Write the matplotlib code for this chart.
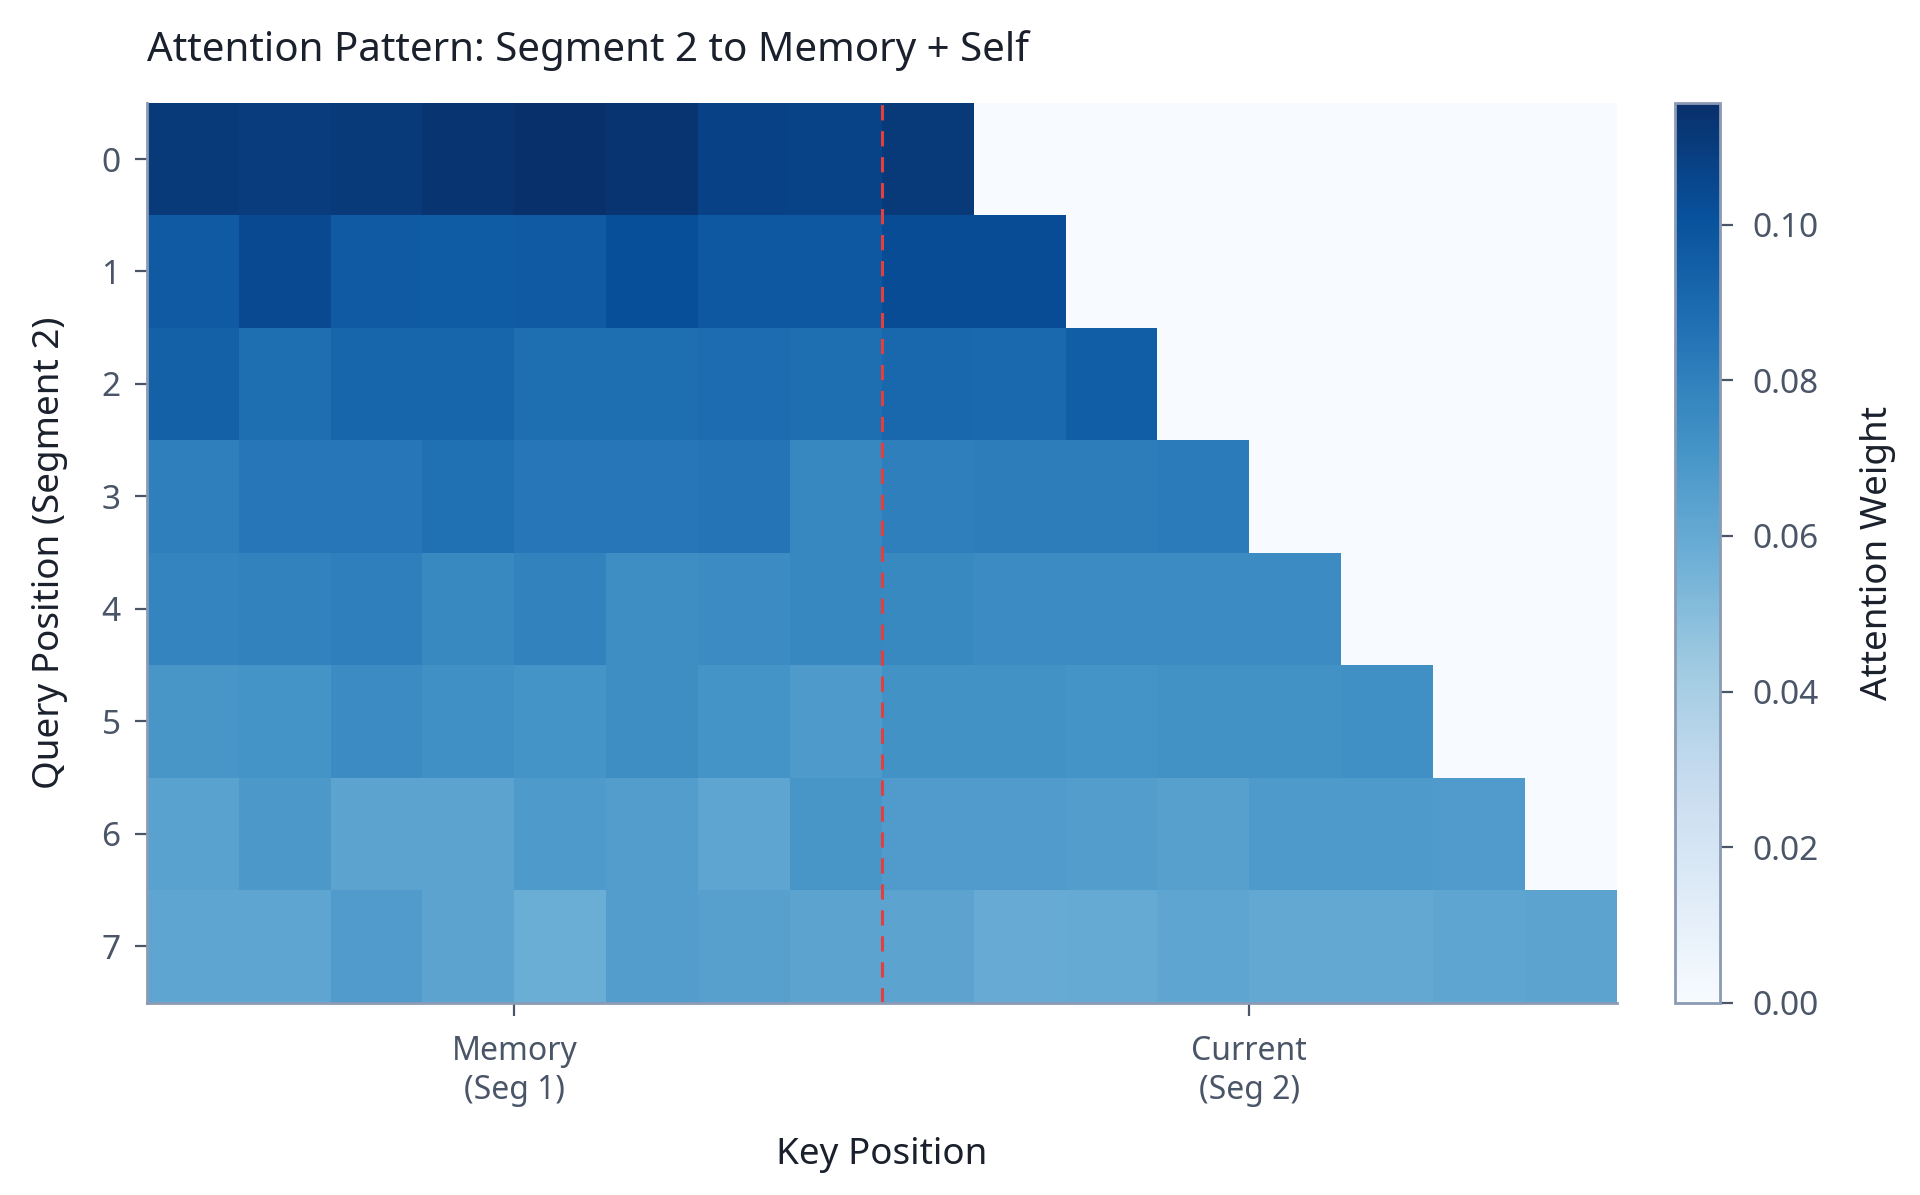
import numpy as np
import matplotlib
matplotlib.use("Agg")
import matplotlib.pyplot as plt

plt.rcParams['font.family'] = ['Noto Sans', 'DejaVu Sans']

# attention weights per query row (memory keys 0-7, then current keys up to self)
row0 = [0.111, 0.110, 0.111, 0.113, 0.1157, 0.113, 0.108, 0.107, 0.111]
row1 = [0.097, 0.104, 0.097, 0.096, 0.097, 0.102, 0.098, 0.098, 0.103, 0.103]
row2 = [0.094, 0.088, 0.092, 0.092, 0.088, 0.088, 0.089, 0.088, 0.091, 0.090, 0.095]
row3 = [0.080, 0.084, 0.084, 0.087, 0.084, 0.084, 0.085, 0.077, 0.080, 0.081, 0.081, 0.082]
row4 = [0.078, 0.079, 0.080, 0.076, 0.079, 0.074, 0.075, 0.077, 0.076, 0.075, 0.075, 0.075, 0.075]
row5 = [0.070, 0.071, 0.075, 0.073, 0.071, 0.074, 0.071, 0.068, 0.072, 0.072, 0.071, 0.072, 0.072, 0.073]
row6 = [0.064, 0.069, 0.063, 0.063, 0.068, 0.066, 0.062, 0.070, 0.067, 0.067, 0.066, 0.065, 0.068, 0.068, 0.067]
row7 = [0.062, 0.062, 0.067, 0.063, 0.058, 0.066, 0.065, 0.063, 0.063, 0.059, 0.060, 0.062, 0.061, 0.061, 0.062, 0.063]

rows = [row0, row1, row2, row3, row4, row5, row6, row7]
n_keys = 16
mem_len = 8

attn = np.zeros((len(rows), n_keys))
for i, r in enumerate(rows):
    attn[i, :len(r)] = r

x_tick_pos = [3.5, 11.5]
x_tick_labels = ["Memory\n(Seg 1)", "Current\n(Seg 2)"]
cbar_ticks = [0.00, 0.02, 0.04, 0.06, 0.08, 0.10]

text_dark = "#1a202c"
text_mid = "#4a5568"
spine_col = "#8b9bb4"

fig = plt.figure(figsize=(19.2, 11.95), dpi=100)
ax = fig.add_axes([0.0765, 0.161, 0.7655, 0.753])
cax = fig.add_axes([0.8724, 0.161, 0.0236, 0.753])

im = ax.imshow(attn, cmap="Blues", aspect="auto", vmin=0, vmax=attn.max(),
               interpolation="nearest")
ax.axvline(mem_len - 0.5, color="#e53e3e", linestyle="--", linewidth=2.2,
           dashes=(5, 3.5))

ax.set_xticks(x_tick_pos)
ax.set_xticklabels(x_tick_labels, fontsize=23, color=text_mid, linespacing=1.25)
ax.set_yticks(range(len(rows)))
ax.set_yticklabels([str(i) for i in range(len(rows))], fontsize=24, color=text_mid)
ax.tick_params(axis="both", length=9, width=1.6, color=text_mid, pad=10)
ax.tick_params(axis="x", pad=14)

for s in ["top", "right"]:
    ax.spines[s].set_visible(False)
for s in ["left", "bottom"]:
    ax.spines[s].set_color(spine_col)
    ax.spines[s].set_linewidth(2)

ax.set_xlabel("Key Position", fontsize=26.5, color=text_dark, labelpad=22)
ax.set_ylabel("Query Position (Segment 2)", fontsize=26.5, color=text_dark, labelpad=24)
ax.set_title("Attention Pattern: Segment 2 to Memory + Self", fontsize=29,
             color=text_dark, loc="left", pad=30)

cb = fig.colorbar(im, cax=cax, ticks=cbar_ticks)
cb.ax.set_yticklabels([f"{t:.2f}" for t in cbar_ticks], fontsize=24, color=text_mid)
cb.ax.tick_params(length=9, width=1.6, color=text_mid, pad=14)
cb.outline.set_edgecolor(spine_col)
cb.outline.set_linewidth(2)
cb.set_label("Attention Weight", fontsize=26.5, color=text_dark, labelpad=30)

fig.savefig("out.png", dpi=100, facecolor="white")
